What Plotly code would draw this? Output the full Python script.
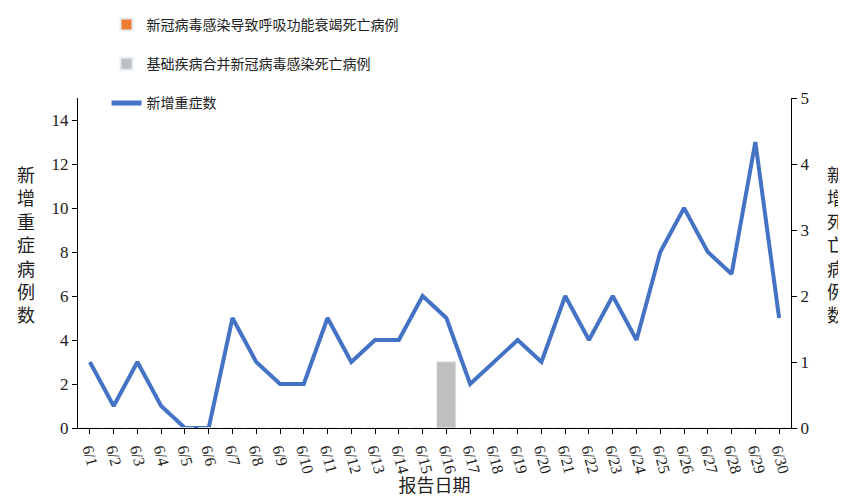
import plotly.graph_objects as go

dates = [f"6/{d}" for d in range(1, 31)]
severe = [3, 1, 3, 1, 0, 0, 5, 3, 2, 2, 5, 3, 4, 4, 6, 5, 2, 3, 4, 3, 6, 4, 6, 4, 8, 10, 8, 7, 13, 5]
death_resp = [0] * 30
death_base = [0] * 30
death_base[15] = 1

font_fam = "Times New Roman, Liberation Serif, Noto Sans CJK SC"

fig = go.Figure()
fig.add_trace(go.Bar(x=dates, y=death_resp, name="新冠病毒感染导致呼吸功能衰竭死亡病例",
                     marker_color="#ED7D31", yaxis="y2", legendgroup="a"))
fig.add_trace(go.Bar(x=dates, y=death_base, name="基础疾病合并新冠病毒感染死亡病例",
                     marker_color="#BFBFBF", yaxis="y2", legendgroup="b"))
fig.add_trace(go.Scatter(x=dates, y=severe, name="新增重症数", mode="lines",
                         line=dict(color="#4472C4", width=4), legendgroup="c"))

fig.update_layout(
    width=846, height=504, plot_bgcolor="white", paper_bgcolor="white",
    font=dict(family=font_fam, size=16, color="#222"),
    margin=dict(l=70, r=63, t=90, b=84, autoexpand=False),
    barmode="overlay", bargap=0,
    showlegend=True,
    legend=dict(x=0.04, y=1.27, xanchor="left", yanchor="top", font=dict(size=14),
                bgcolor="rgba(0,0,0,0)", tracegroupgap=18, itemsizing="constant"),
    xaxis=dict(tickangle=75, showline=True, linecolor="black", ticks="outside",
               tickcolor="black", tickfont=dict(size=16),
               title=dict(text="报告日期", font=dict(size=18), standoff=4)),
    yaxis=dict(range=[0, 15], dtick=2, showline=True, linecolor="black", ticks="outside",
               tickcolor="black", showgrid=False, zeroline=False, tickfont=dict(size=17)),
    yaxis2=dict(range=[0, 5], dtick=1, overlaying="y", side="right", showline=True,
                linecolor="black", ticks="outside", tickcolor="black", showgrid=False,
                tickfont=dict(size=17)),
)
fig.update_traces(selector=dict(type="bar"), width=0.8)

fig.add_annotation(text="<br>".join("新增重症病例数"), xref="paper", yref="paper",
                   x=-0.073, y=0.55, showarrow=False, font=dict(size=18), xanchor="center")
fig.add_annotation(text="<br>".join("新增死亡病例数"), xref="paper", yref="paper",
                   x=1.063, y=0.55, showarrow=False, font=dict(size=18), xanchor="center")

fig.write_html("out.html")
